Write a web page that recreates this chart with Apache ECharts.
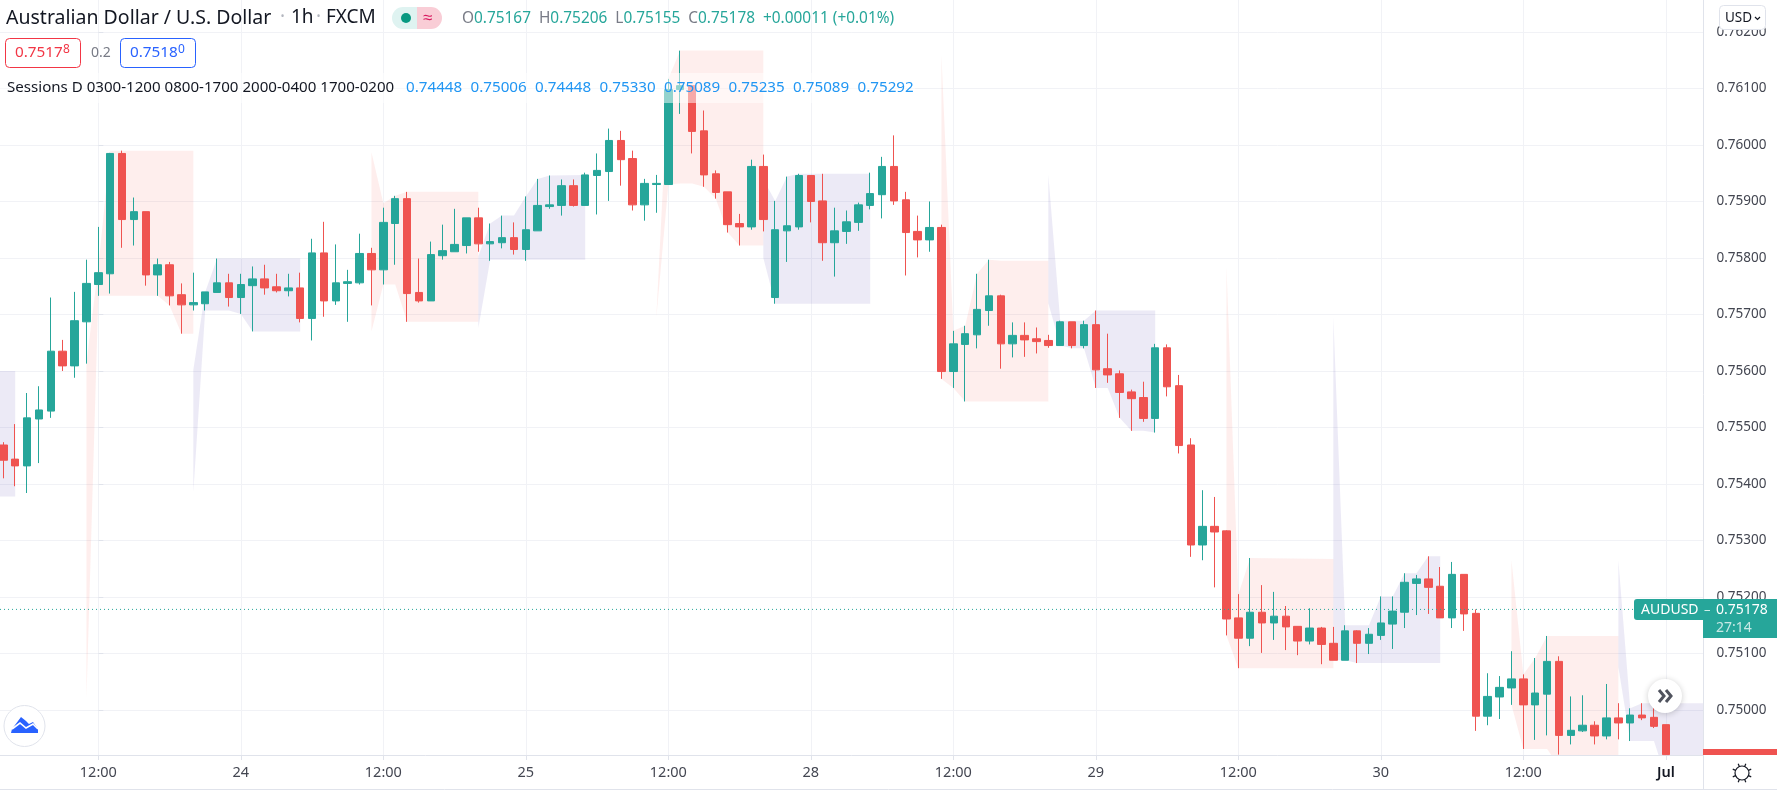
<!DOCTYPE html>
<html>
<head>
<meta charset="utf-8">
<title>AUDUSD 1h</title>
<script src="https://cdn.jsdelivr.net/npm/echarts@6/dist/echarts.min.js"></script>
<style>
  html, body { margin: 0; padding: 0; background: #fff; }
  #chart { width: 1777px; height: 798px; }
</style>
</head>
<body>
<div id="chart"></div>
<script>
// bar numbers run from the 12:00 candle on the 23rd (bar 0), one bar per hour
const firstBar = -8;
const opens = [
  0.75469,0.75444,0.75432,0.75515,0.75529,0.75635,0.75609,0.75687,
  0.75753,0.75772,0.75985,0.75868,0.75882,0.75770,0.75788,0.75735,0.75717,0.75719,0.75739,0.75756,
  0.75730,0.75751,0.75763,0.75749,0.75742,0.75747,0.75693,0.75809,0.75724,0.75755,0.75756,0.75808,
  0.75779,0.75861,0.75905,0.75739,0.75724,0.75804,0.75811,0.75822,0.75871,0.75825,0.75827,0.75836,
  0.75815,0.75848,0.75891,0.75893,0.75928,0.75893,0.75946,0.75953,0.76008,0.75976,0.75894,0.75930,
  0.75930,0.76098,0.76105,0.76025,0.75949,0.75917,0.75861,0.75855,0.75962,0.75730,0.75848,0.75855,
  0.75946,0.75901,0.75827,0.75847,0.75863,0.75893,0.75912,0.75962,0.75903,0.75847,0.75832,0.75854,
  0.75599,0.75647,0.75664,0.75707,0.75733,0.75648,0.75663,0.75657,0.75654,0.75645,0.75687,0.75645,
  0.75682,0.75604,0.75595,0.75563,0.75553,0.75516,0.75641,0.75574,0.75469,0.75292,0.75325,0.75317,
  0.75163,0.75127,0.75173,0.75154,0.75166,0.75148,0.75122,0.75145,0.75118,0.75088,0.75140,0.75118,
  0.75132,0.75152,0.75173,0.75224,0.75232,0.75219,0.75163,0.75240,0.75171,0.74989,0.75023,0.75039,
  0.75055,0.75009,0.75028,0.75086,0.74955,0.74963,0.74973,0.74954,0.74986,0.74977,0.74991,0.74987,
  0.74974
];
const closes = [
  0.75442,0.75432,0.75517,0.75531,0.75635,0.75609,0.75689,0.75755,
  0.75774,0.75985,0.75868,0.75882,0.75770,0.75788,0.75733,0.75717,0.75721,0.75740,0.75756,0.75730,
  0.75753,0.75763,0.75747,0.75742,0.75747,0.75693,0.75809,0.75724,0.75756,0.75758,0.75808,0.75779,
  0.75863,0.75905,0.75737,0.75724,0.75806,0.75813,0.75824,0.75871,0.75825,0.75829,0.75836,0.75815,
  0.75850,0.75893,0.75894,0.75928,0.75893,0.75947,0.75955,0.76008,0.75974,0.75894,0.75932,0.75932,
  0.76098,0.76105,0.76024,0.75947,0.75916,0.75859,0.75855,0.75962,0.75868,0.75850,0.75857,0.75946,
  0.75900,0.75827,0.75848,0.75864,0.75894,0.75914,0.75962,0.75901,0.75845,0.75832,0.75854,0.75599,
  0.75648,0.75666,0.75709,0.75733,0.75648,0.75663,0.75655,0.75652,0.75645,0.75687,0.75645,0.75682,
  0.75602,0.75593,0.75562,0.75551,0.75516,0.75641,0.75572,0.75468,0.75292,0.75325,0.75315,0.75161,
  0.75127,0.75173,0.75154,0.75166,0.75147,0.75122,0.75145,0.75116,0.75088,0.75140,0.75118,0.75134,
  0.75154,0.75175,0.75226,0.75232,0.75217,0.75163,0.75240,0.75170,0.74989,0.75024,0.75040,0.75055,
  0.75009,0.75030,0.75086,0.74955,0.74964,0.74973,0.74954,0.74986,0.74977,0.74991,0.74986,0.74971,
  0.74921
];
const lows = [
  0.75410,0.75396,0.75384,0.75437,0.75517,0.75600,0.75588,0.75613,
  0.75733,0.75737,0.75818,0.75822,0.75751,0.75733,0.75716,0.75666,0.75707,0.75707,0.75739,0.75714,
  0.75701,0.75670,0.75735,0.75739,0.75732,0.75686,0.75654,0.75696,0.75717,0.75687,0.75753,0.75716,
  0.75753,0.75788,0.75687,0.75721,0.75724,0.75797,0.75811,0.75808,0.75811,0.75795,0.75817,0.75806,
  0.75795,0.75848,0.75887,0.75875,0.75891,0.75893,0.75877,0.75901,0.75928,0.75884,0.75866,0.75880,
  0.75930,0.76055,0.75985,0.75926,0.75905,0.75845,0.75822,0.75850,0.75847,0.75719,0.75793,0.75850,
  0.75863,0.75795,0.75767,0.75825,0.75848,0.75886,0.75870,0.75894,0.75769,0.75801,0.75811,0.75586,
  0.75570,0.75546,0.75640,0.75680,0.75604,0.75624,0.75625,0.75631,0.75641,0.75645,0.75640,0.75640,
  0.75570,0.75579,0.75517,0.75494,0.75510,0.75491,0.75555,0.75454,0.75271,0.75265,0.75217,0.75132,
  0.75074,0.75113,0.75101,0.75124,0.75106,0.75097,0.75116,0.75081,0.75088,0.75088,0.75083,0.75099,
  0.75124,0.75108,0.75145,0.75168,0.75170,0.75163,0.75145,0.75140,0.74963,0.74973,0.74984,0.75009,
  0.74931,0.74947,0.74955,0.74921,0.74939,0.74961,0.74939,0.74948,0.74948,0.74945,0.74982,0.74968,
  0.74921
];
const highs = [
  0.75474,0.75506,0.75561,0.75573,0.75730,0.75655,0.75740,0.75797,
  0.75855,0.75986,0.75990,0.75907,0.75882,0.75799,0.75793,0.75755,0.75774,0.75740,0.75799,0.75772,
  0.75772,0.75785,0.75788,0.75772,0.75772,0.75774,0.75834,0.75864,0.75824,0.75779,0.75843,0.75818,
  0.75889,0.75910,0.75917,0.75799,0.75829,0.75859,0.75887,0.75871,0.75889,0.75861,0.75875,0.75863,
  0.75909,0.75940,0.75946,0.75939,0.75939,0.75951,0.75985,0.76029,0.76025,0.75990,0.75940,0.75947,
  0.76117,0.76167,0.76105,0.76061,0.75955,0.75917,0.75878,0.75974,0.75983,0.75901,0.75944,0.75949,
  0.75946,0.75949,0.75889,0.75884,0.75898,0.75951,0.75979,0.76017,0.75917,0.75875,0.75900,0.75859,
  0.75671,0.75680,0.75772,0.75797,0.75735,0.75686,0.75686,0.75677,0.75664,0.75689,0.75687,0.75689,
  0.75707,0.75666,0.75601,0.75567,0.75581,0.75648,0.75647,0.75593,0.75481,0.75389,0.75377,0.75318,
  0.75205,0.75269,0.75221,0.75209,0.75184,0.75148,0.75180,0.75147,0.75147,0.75150,0.75141,0.75145,
  0.75201,0.75201,0.75242,0.75239,0.75272,0.75253,0.75262,0.75240,0.75178,0.75065,0.75060,0.75104,
  0.75063,0.75092,0.75131,0.75095,0.75024,0.75026,0.74980,0.75046,0.75012,0.75003,0.75012,0.75010,
  0.74974
];

// session boxes as [bar, top, bottom]
const pinkSessions = [
  [[-1,0.75614,0.75021],[0,0.75785,0.75733],[1,0.75990,0.75733],[5,0.75990,0.75733],[6,0.75990,0.75716],[7,0.75990,0.75666],[8,0.75990,0.75666]],
  [[23,0.75987,0.75670],[24,0.75897,0.75753],[25,0.75910,0.75753],[26,0.75917,0.75687],[32,0.75917,0.75687]],
  [[47,0.75700,0.75697],[48,0.76117,0.75930],[49,0.76167,0.75932],[50,0.76167,0.75932],[51,0.76167,0.75926],[52,0.76167,0.75905],[53,0.76167,0.75845],[54,0.76167,0.75822],[56,0.76167,0.75822]],
  [[71,0.76159,0.75586],[72,0.75671,0.75570],[73,0.75680,0.75546],[74,0.75772,0.75546],[75,0.75797,0.75546],[76,0.75795,0.75546],[80,0.75795,0.75546]],
  [[95,0.75785,0.75132],[96,0.75205,0.75074],[97,0.75269,0.75074],[104,0.75267,0.75074]],
  [[119,0.75265,0.75009],[120,0.75063,0.74931],[121,0.75092,0.74931],[122,0.75131,0.74931],[123,0.75131,0.74900],[128,0.75131,0.74900]]
];
const lavenderSessions = [
  [[-9,0.75600,0.75378],[-7,0.75600,0.75378]],
  [[8,0.75602,0.75386],[9,0.75740,0.75707],[10,0.75799,0.75707],[11,0.75799,0.75707],[12,0.75799,0.75701],[13,0.75799,0.75670],[17,0.75799,0.75670]],
  [[32,0.75803,0.75676],[33,0.75861,0.75797],[34,0.75875,0.75797],[35,0.75875,0.75797],[36,0.75909,0.75797],[37,0.75940,0.75797],[38,0.75946,0.75797],[41,0.75947,0.75797]],
  [[56,0.75939,0.75800],[57,0.75901,0.75719],[58,0.75944,0.75719],[59,0.75949,0.75719],[65,0.75949,0.75719]],
  [[80,0.75947,0.75720],[81,0.75689,0.75645],[82,0.75689,0.75640],[83,0.75689,0.75640],[84,0.75707,0.75570],[85,0.75707,0.75570],[86,0.75707,0.75517],[87,0.75707,0.75494],[88,0.75707,0.75494],[89,0.75707,0.75491]],
  [[104,0.75696,0.75088],[105,0.75150,0.75088],[106,0.75150,0.75083],[107,0.75150,0.75083],[108,0.75201,0.75083],[109,0.75201,0.75083],[110,0.75242,0.75083],[111,0.75242,0.75083],[112,0.75272,0.75083],[113,0.75272,0.75083]],
  [[128,0.75265,0.75076],[129,0.75003,0.74945],[130,0.75012,0.74945],[131,0.75012,0.74945],[132,0.75012,0.74880],[136,0.75012,0.74880]]
];

const yTicks = [0.75,0.751,0.752,0.753,0.754,0.755,0.756,0.757,0.758,0.759,0.76,0.761,0.762];
const xTickBars = [0,12,24,36,48,60,72,84,96,108,120,132];
const xTickLabels = ['12:00','24','12:00','25','12:00','28','12:00','29','12:00','30','12:00','Jul'];
const lastPrice = 0.75178;
const sessionValues = ['0.74448','0.75006','0.74448','0.75330','0.75089','0.75235','0.75089','0.75292'];

const xMin = -8.28;
const xMax = 135.17;
const UP = '#26a69a';
const DOWN = '#ef5350';
const GRID = '#f1f2f6';
const AXIS = '#e0e3eb';
const TEXT = '#131722';
const FONT = '"Noto Sans", sans-serif';

const candles = opens.map((o, k) => [firstBar + k, o, closes[k], lows[k], highs[k]]);

function sessionSeries(sessions, fill) {
  return {
    type: 'custom',
    coordinateSystem: 'cartesian2d',
    clip: true,
    silent: true,
    z: 1,
    data: sessions.map((s, k) => k),
    renderItem: (params, api) => {
      const pts = sessions[params.dataIndex];
      const top = pts.map(p => api.coord([p[0], p[1]]));
      const bottom = pts.map(p => api.coord([p[0], p[2]])).reverse();
      return { type: 'polygon', shape: { points: top.concat(bottom) }, style: { fill: fill } };
    }
  };
}

function label(x, y, text, size, fill, extra) {
  return {
    type: 'text',
    style: Object.assign({ x, y, text, fill, font: size + 'px ' + FONT, verticalAlign: 'middle' }, extra || {})
  };
}

function gearLines(cx, cy) {
  const lines = [];
  for (let a = 0; a < 8; a++) {
    const t = a * Math.PI / 4 + Math.PI / 8;
    lines.push({
      type: 'line',
      shape: { x1: cx + 7 * Math.cos(t), y1: cy + 7 * Math.sin(t), x2: cx + 10 * Math.cos(t), y2: cy + 10 * Math.sin(t) },
      style: { stroke: TEXT, lineWidth: 1.2 }
    });
  }
  return lines;
}

const overlays = [
  // legend row washes out what is behind it
  { type: 'rect', shape: { x: 0, y: 73, width: 915, height: 30 }, style: { fill: 'rgba(255,255,255,0.5)' } },

  label(6, 18, 'Australian Dollar / U.S. Dollar', 19.5, TEXT),
  label(280, 18, '·', 19, '#b2b5be'),
  label(291, 18, '1h', 19, TEXT),
  label(316, 18, '·', 19, '#b2b5be'),
  label(326, 18, 'FXCM', 19, TEXT),

  { type: 'rect', shape: { x: 392, y: 7, width: 26, height: 22, r: [11, 0, 0, 11] }, style: { fill: '#dff3f1' } },
  { type: 'rect', shape: { x: 417, y: 7, width: 25, height: 22, r: [0, 11, 11, 0] }, style: { fill: '#f9cdd6' } },
  { type: 'circle', shape: { cx: 406, cy: 18, r: 5 }, style: { fill: '#089981' } },
  label(423, 18, '≈', 17, '#d81b60'),

  { type: 'text', style: {
    x: 462, y: 19, verticalAlign: 'middle', font: '15.4px ' + FONT, fill: UP,
    text: '{k|O}0.75167  {k|H}0.75206  {k|L}0.75155  {k|C}0.75178  +0.00011 (+0.01%)',
    rich: { k: { fill: '#787b86', font: '15.4px ' + FONT } }
  } },

  { type: 'rect', shape: { x: 5.5, y: 38.5, width: 75, height: 29, r: 4 }, style: { fill: '#fff', stroke: '#f23645', lineWidth: 1 } },
  label(15, 53, '0.7517', 15.3, '#f23645'),
  label(63, 50, '8', 12, '#f23645'),
  label(91, 53, '0.2', 14, '#787b86'),
  { type: 'rect', shape: { x: 120.5, y: 38.5, width: 75, height: 29, r: 4 }, style: { fill: '#fff', stroke: '#2962ff', lineWidth: 1 } },
  label(130, 53, '0.7518', 15.3, '#2962ff'),
  label(178, 50, '0', 12, '#2962ff'),

  label(7, 88, 'Sessions D 0300-1200 0800-1700 2000-0400 1700-0200', 15.1, '#131722'),
  ...sessionValues.map((v, k) => label(406 + k * 64.5, 88, v, 15.2, '#2196f3')),

  // price axis furniture
  { type: 'line', shape: { x1: 1703.5, y1: 0, x2: 1703.5, y2: 789 }, style: { stroke: AXIS, lineWidth: 1 } },
  { type: 'line', shape: { x1: 0, y1: 789.5, x2: 1777, y2: 789.5 }, style: { stroke: AXIS, lineWidth: 1 } },
  { type: 'rect', shape: { x: 1719.5, y: 5.5, width: 46, height: 24, r: 4 }, style: { fill: '#fff', stroke: AXIS, lineWidth: 1 } },
  label(1725, 18, 'USD', 13.5, '#131722'),
  { type: 'polyline', shape: { points: [[1755, 17], [1757.5, 19.5], [1760, 17]] }, style: { stroke: '#131722', lineWidth: 1.2, fill: null } },

  { type: 'rect', shape: { x: 1634, y: 599, width: 143, height: 21, r: [3, 0, 0, 3] }, style: { fill: UP } },
  { type: 'rect', shape: { x: 1703, y: 619, width: 74, height: 19 }, style: { fill: UP } },
  label(1641, 610, 'AUDUSD', 14, '#fff'),
  label(1704, 610, '–', 13, '#cfeeea'),
  label(1716, 610, '0.75178', 14, '#fff'),
  label(1716, 628, '27:14', 14, 'rgba(255,255,255,0.75)'),
  { type: 'rect', shape: { x: 1703, y: 749, width: 74, height: 6 }, style: { fill: DOWN } },

  // scroll to latest button
  { type: 'circle', shape: { cx: 1665, cy: 696, r: 17 }, style: { fill: '#fff', shadowBlur: 6, shadowColor: 'rgba(0,0,0,0.2)', shadowOffsetY: 1 } },
  { type: 'polyline', shape: { points: [[1659, 690], [1664, 696], [1659, 702]] }, style: { stroke: '#50535e', lineWidth: 3, fill: null } },
  { type: 'polyline', shape: { points: [[1666, 690], [1671, 696], [1666, 702]] }, style: { stroke: '#50535e', lineWidth: 3, fill: null } },

  // logo
  { type: 'circle', shape: { cx: 24.5, cy: 726, r: 20.5 }, style: { fill: '#fff', stroke: AXIS, lineWidth: 1 } },
  { type: 'polygon', shape: { points: [[11, 733], [12, 729], [21, 717], [26, 721], [29, 724], [33, 722], [38, 729], [38, 733]] }, style: { fill: '#2962ff' } },
  { type: 'polyline', shape: { points: [[12, 729], [20, 723], [26, 728], [33, 724], [38, 729]] }, style: { stroke: '#fff', lineWidth: 1.6, fill: null } },

  // settings
  { type: 'circle', shape: { cx: 1742, cy: 773, r: 7 }, style: { fill: '#fff', stroke: TEXT, lineWidth: 1.2 } },
  ...gearLines(1742, 773)
];

const chart = echarts.init(document.getElementById('chart'), null, { renderer: 'canvas' });

chart.setOption({
  animation: false,
  backgroundColor: '#fff',
  grid: { left: 0, right: 73.5, top: 0, bottom: 43 },
  xAxis: {
    type: 'value',
    min: xMin,
    max: xMax,
    axisLine: { onZero: false, lineStyle: { color: AXIS } },
    axisTick: { customValues: xTickBars, length: 5, lineStyle: { color: AXIS } },
    splitLine: { show: true, customValues: xTickBars, lineStyle: { color: GRID } },
    axisLabel: {
      customValues: xTickBars,
      margin: 10,
      fontFamily: FONT,
      fontSize: 14.5,
      color: '#434651',
      formatter: v => {
        const t = xTickLabels[xTickBars.indexOf(v)];
        return t === 'Jul' ? '{b|Jul}' : t;
      },
      rich: { b: { fontFamily: FONT, fontSize: 14.5, fontWeight: 600, color: TEXT } }
    }
  },
  yAxis: {
    type: 'value',
    position: 'right',
    min: 0.749203,
    max: 0.762566,
    axisLine: { show: false },
    axisTick: { show: true, customValues: yTicks, length: 5, lineStyle: { color: AXIS } },
    splitLine: { show: true, customValues: yTicks, lineStyle: { color: GRID } },
    axisLabel: {
      customValues: yTicks,
      margin: 13,
      fontFamily: FONT,
      fontSize: 13.5,
      color: '#434651',
      formatter: v => v.toFixed(5)
    }
  },
  series: [
    sessionSeries(pinkSessions, 'rgba(244,67,54,0.09)'),
    sessionSeries(lavenderSessions, 'rgba(70,50,170,0.1)'),
    {
      type: 'candlestick',
      z: 2,
      barWidth: 8,
      clip: true,
      data: candles,
      itemStyle: { color: UP, color0: DOWN, borderColor: UP, borderColor0: DOWN, borderWidth: 1 }
    },
    {
      type: 'line',
      z: 3,
      silent: true,
      symbol: 'none',
      lineStyle: { color: UP, type: [1, 3], width: 1 },
      data: [[xMin, lastPrice], [xMax, lastPrice]]
    }
  ],
  graphic: { zlevel: 1, z: 100, elements: overlays.map(e => Object.assign({ zlevel: 1, z: 100 }, e)) }
});
</script>
</body>
</html>
